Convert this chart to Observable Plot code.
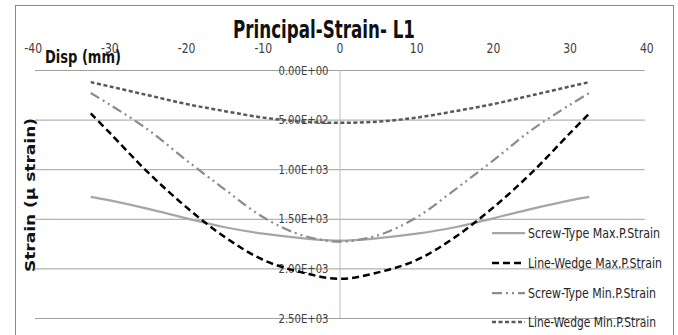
<!DOCTYPE html>
<html><head><meta charset="utf-8">
<script src="https://cdn.jsdelivr.net/npm/d3@7"></script>
<script src="https://cdn.jsdelivr.net/npm/@observablehq/plot@0.6"></script>
<style>
body{margin:0;background:#fff;}
#chart svg{display:block;}
</style>
</head><body><div id="chart"></div>
<script>
// ---- data ----
const disp      = [-32.5, -30, -25, -20, -15, -10, -5, 0, 5, 10, 15, 20, 25, 30, 32.5];
const screwMax  = [1273, 1310, 1395, 1490, 1580, 1645, 1690, 1715, 1690, 1645, 1580, 1490, 1395, 1310, 1275];
const wedgeMax  = [433, 630, 1030, 1380, 1680, 1910, 2035, 2100, 2035, 1910, 1680, 1380, 1030, 630, 433];
const screwMin  = [227, 345, 598, 906, 1200, 1480, 1660, 1725, 1660, 1480, 1200, 906, 598, 345, 227];
const wedgeMin  = [117, 161, 250, 338, 410, 475, 515, 527, 515, 475, 410, 338, 250, 161, 117];
const seriesNames = ["Screw-Type Max.P.Strain", "Line-Wedge Max.P.Strain", "Screw-Type Min.P.Strain", "Line-Wedge Min.P.Strain"];
const xTicks = [-40, -30, -20, -10, 0, 10, 20, 30, 40];
const yTicks = [0, 500, 1000, 1500, 2000, 2500];
const yTickLabels = ["0.00E+00", "5.00E+02", "1.00E+03", "1.50E+03", "2.00E+03", "2.50E+03"];
const titleText = "Principal-Strain- L1";
const xLabel = "Disp (mm)";
const yLabel = "Strain (\u00b5 strain)";

const NARROW = "'Liberation Sans Narrow','DejaVu Sans Condensed','Arial Narrow',sans-serif";
const styles = [
  {stroke: "#a6a6a6", strokeWidth: 2.25, strokeDasharray: null},
  {stroke: "#000000", strokeWidth: 2.5, strokeDasharray: "7,4"},
  {stroke: "#8c8c8c", strokeWidth: 2.25, strokeDasharray: "10,4,2,4,2,4"},
  {stroke: "#595959", strokeWidth: 2.5, strokeDasharray: "4,2.5"}
];
const allSeries = [screwMax, wedgeMax, screwMin, wedgeMin];
const tables = allSeries.map(vals => disp.map((x, i) => ({x, v: vals[i]})));

const lineMarks = tables.map((t, k) => Plot.line(t, {
  x: "x", y: "v", curve: "catmull-rom",
  stroke: styles[k].stroke, strokeWidth: styles[k].strokeWidth,
  strokeLinecap: "butt",
  strokeDasharray: styles[k].strokeDasharray || undefined
}));

const chart = Plot.plot({
  width: 678, height: 335,
  marginLeft: 32.7, marginRight: 31.7, marginTop: 70, marginBottom: 17,
  x: {domain: [-40, 40], axis: null},
  y: {domain: [0, 2500], reverse: true, axis: null},
  style: {fontFamily: NARROW, background: "white", overflow: "visible"},
  marks: [
    Plot.ruleY(yTicks, {x1: -39.7, x2: 39.8, stroke: "#a0a0a0", strokeWidth: 1}),
    Plot.ruleX([0], {y1: 0, y2: 2500, stroke: "#bdbdbd", strokeWidth: 1}),
    Plot.text(yTicks, {x: 0, y: d => d, text: (d, i) => yTickLabels[i], textAnchor: "end", dx: -11.5, fontSize: 13, fill: "#404040"}),
    Plot.text(xTicks, {x: d => d, y: 0, text: d => String(d), dy: -22, fontSize: 14, fill: "#404040"}),
    ...lineMarks
  ]
});

document.getElementById("chart").appendChild(chart);
const svg = d3.select(chart);

// squeeze Plot's tick label texts to a narrow (Calibri-like) width
svg.selectAll("text").each(function() {
  const len = this.getComputedTextLength();
  if (len > 0) { this.setAttribute("textLength", (len * 0.86).toFixed(1)); this.setAttribute("lengthAdjust", "spacingAndGlyphs"); }
});

// outer chart-area border
svg.insert("rect", ":first-child").attr("x", 15.5).attr("y", 5.5).attr("width", 658).attr("height", 340)
  .attr("fill", "none").attr("stroke", "#8a8a8a").attr("stroke-width", 1);

// title
svg.append("text").attr("x", 324).attr("y", 37.5).attr("text-anchor", "middle")
  .attr("font-family", NARROW).attr("font-weight", "bold").attr("font-size", 25).attr("fill", "#111")
  .attr("textLength", 182).attr("lengthAdjust", "spacingAndGlyphs").text(titleText);
// x label
svg.append("text").attr("x", 45).attr("y", 62.5).attr("text-anchor", "start")
  .attr("font-family", NARROW).attr("font-weight", "bold").attr("font-size", 18).attr("fill", "#111")
  .attr("textLength", 76).attr("lengthAdjust", "spacingAndGlyphs").text(xLabel);
// y label
svg.append("text").attr("transform", "translate(35,195) rotate(-90)").attr("text-anchor", "middle")
  .attr("font-family", "'DejaVu Sans',sans-serif").attr("font-weight", "bold").attr("font-size", 14).attr("fill", "#111")
  .attr("textLength", 154).attr("lengthAdjust", "spacingAndGlyphs").text(yLabel);

// legend
const legY = [233, 263, 293, 322];
const legW = [132, 134, 128, 128];
seriesNames.forEach((name, k) => {
  const g = svg.append("g");
  const ln = g.append("line").attr("x1", 492).attr("x2", 525).attr("y1", legY[k]).attr("y2", legY[k])
    .attr("stroke", styles[k].stroke).attr("stroke-width", styles[k].strokeWidth).attr("fill", "none");
  if (styles[k].strokeDasharray) ln.attr("stroke-dasharray", styles[k].strokeDasharray);
  g.append("text").attr("x", 528).attr("y", legY[k]).attr("dy", "0.36em").attr("text-anchor", "start")
    .attr("font-family", NARROW).attr("font-size", 13.5).attr("fill", "#262626")
    .attr("textLength", legW[k]).attr("lengthAdjust", "spacingAndGlyphs").text(name);
});
</script>
</body></html>
